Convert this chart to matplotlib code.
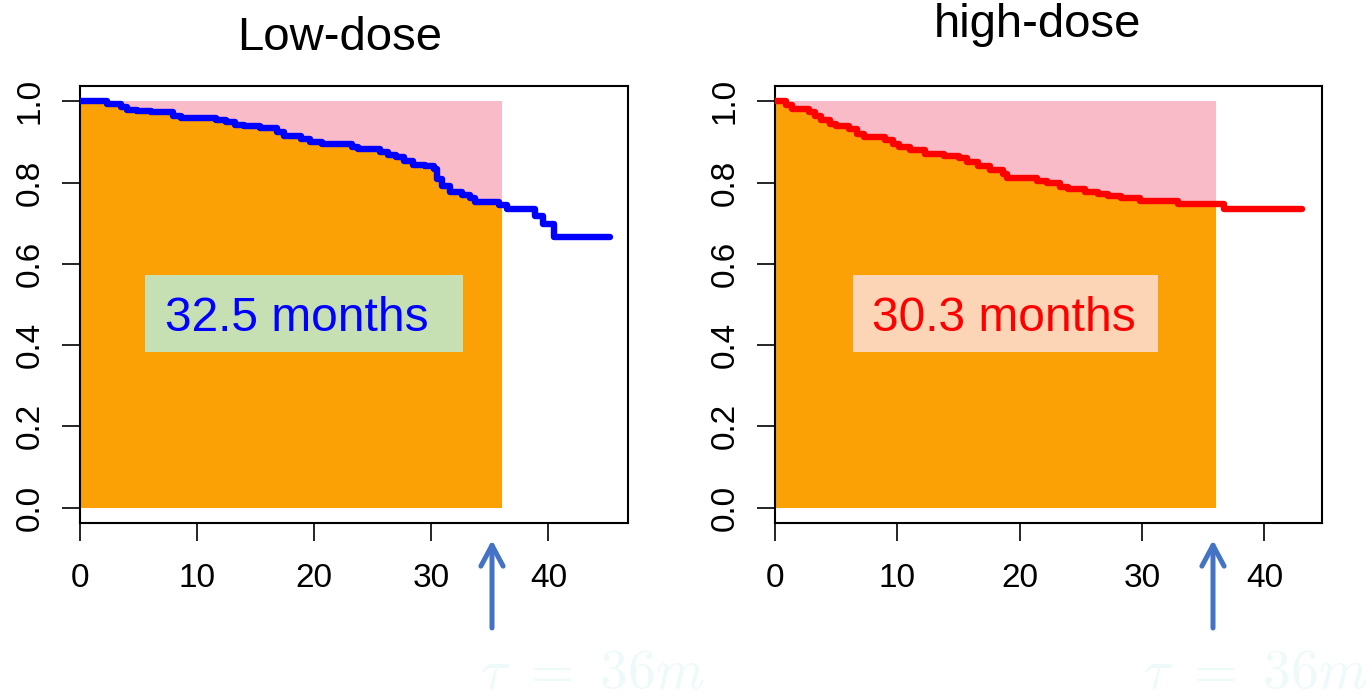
import numpy as np
import matplotlib
matplotlib.use("Agg")
import matplotlib.pyplot as plt
from matplotlib.patches import Rectangle

plt.rcParams["font.family"] = ["Liberation Sans", "DejaVu Sans"]

# Kaplan-Meier step curves: (event time, survival after that time)
low_times = [0, 2.3, 3.5, 4.0, 4.9, 6.1, 7.9, 8.6, 11.6, 12.5, 13.2, 14.0, 15.4,
             16.8, 17.4, 18.9, 19.6, 20.7, 23.2, 23.7, 25.6, 26.3, 27.0, 27.7,
             28.4, 29.5, 30.2, 30.5, 30.9, 31.6, 32.6, 33.3, 33.7, 35.8, 36.5,
             38.9, 39.5, 40.5]
low_surv = [1.0, 0.993, 0.986, 0.980, 0.977, 0.973, 0.965, 0.960, 0.955, 0.949,
            0.943, 0.940, 0.934, 0.924, 0.914, 0.908, 0.901, 0.894, 0.887, 0.883,
            0.875, 0.868, 0.862, 0.854, 0.843, 0.840, 0.833, 0.809, 0.792, 0.776,
            0.769, 0.761, 0.752, 0.744, 0.736, 0.718, 0.697, 0.667]
low_last_followup = 45.3

high_times = [0, 0.86, 1.38, 2.76, 3.28, 3.79, 4.48, 5.0, 6.03, 6.72, 7.24, 8.97,
              9.66, 10.17, 11.03, 12.24, 13.79, 15.0, 15.69, 16.55, 17.59, 18.62,
              18.97, 21.38, 22.24, 23.28, 23.97, 25.34, 26.38, 27.24, 28.28,
              29.83, 32.93, 36.72]
high_surv = [1.0, 0.990, 0.982, 0.974, 0.964, 0.954, 0.945, 0.939, 0.932, 0.920,
             0.912, 0.905, 0.895, 0.887, 0.881, 0.870, 0.865, 0.860, 0.850, 0.840,
             0.832, 0.822, 0.812, 0.805, 0.799, 0.790, 0.784, 0.777, 0.771, 0.767,
             0.763, 0.755, 0.747, 0.736]
high_last_followup = 43.1

tau = 36
rmst_labels = ["32.5 months", "30.3 months"]
titles = ["Low-dose", "high-dose"]
x_ticks = [0, 10, 20, 30, 40]
y_ticks = [0.0, 0.2, 0.4, 0.6, 0.8, 1.0]

W, H = 1368, 697
fig = plt.figure(figsize=(W / 100, H / 100), dpi=100)


def step_arrays(times, surv, t_end):
    t = np.append(np.asarray(times, float), t_end)
    s = np.append(np.asarray(surv, float), surv[-1])
    return t, s


def truncated(times, surv, t_cut):
    t = np.asarray(times, float)
    s = np.asarray(surv, float)
    keep = t < t_cut
    tt = np.append(t[keep], t_cut)
    ss = np.append(s[keep], s[keep][-1])
    return tt, ss


def panel(rect, times, surv, t_end, xmax, color, title, title_xy,
          label, label_xy, box_color, box_px):
    ax = fig.add_axes(rect)
    tt, ss = truncated(times, surv, tau)
    ax.fill_between(tt, ss, 1.0, step="post", color="#F9BBC8", lw=0, zorder=1)
    ax.fill_between(tt, 0, ss, step="post", color="#FBA005", lw=0, zorder=2)
    t, s = step_arrays(times, surv, t_end)
    ax.plot(t, s, drawstyle="steps-post", color=color, lw=4.6,
            solid_capstyle="round", solid_joinstyle="round", zorder=4)

    ax.set_xlim(0, xmax)
    ax.set_ylim(-0.038, 1.038)
    ax.set_xticks(x_ticks)
    ax.set_yticks(y_ticks)
    ax.set_xticklabels([str(v) for v in x_ticks])
    ax.set_yticklabels([f"{v:.1f}" for v in y_ticks])
    ax.tick_params(axis="both", length=13, width=1.2, labelsize=24,
                   direction="out", color="black")
    ax.tick_params(axis="x", pad=16)
    ax.tick_params(axis="y", pad=12)
    for lab in ax.get_yticklabels():
        lab.set_rotation(90)
        lab.set_va("center")
    for sp in ax.spines.values():
        sp.set_linewidth(1.5)
        sp.set_color("black")

    # label box with the restricted mean value
    x0, y0, x1, y1 = box_px
    fig.patches.append(Rectangle((x0 / W, 1 - y1 / H), (x1 - x0) / W,
                                 (y1 - y0) / H, transform=fig.transFigure,
                                 facecolor=box_color, edgecolor="none",
                                 zorder=5))
    fig.text(label_xy[0] / W, 1 - label_xy[1] / H, label,
             color=color, fontsize=34.5, ha="center", va="center", zorder=6)
    fig.text(title_xy[0] / W, 1 - title_xy[1] / H, title, fontsize=34,
             ha="center", va="center")
    return ax


panel([80 / W, 1 - 523 / H, (628 - 80) / W, (523 - 86) / H],
      low_times, low_surv, low_last_followup, 46.8, "#0000FF",
      titles[0], (340, 38), rmst_labels[0], (296.5, 318),
      "#C6E0B4", (145, 275, 463, 352))
panel([775 / W, 1 - 523 / H, (1322 - 775) / W, (523 - 86) / H],
      high_times, high_surv, high_last_followup, 44.7, "#FF0000",
      titles[1], (1037, 25), rmst_labels[1], (1004, 318),
      "#FBD5B5", (853, 275, 1158, 352))

# arrows marking the truncation time
for ax_x in (492, 1213):
    plt.annotate("", xy=(ax_x, H - 540), xytext=(ax_x, H - 628),
                 xycoords="figure pixels", textcoords="figure pixels",
                 arrowprops=dict(arrowstyle="->,head_length=0.75,head_width=0.4",
                                 color="#4472C4", lw=3.6, mutation_scale=20,
                                 shrinkA=0, shrinkB=0))

# faint truncation-time note
for tx in (480, 1143):
    fig.text(tx / W, 1 - 688 / H, r"$\tau\ =\ 36m$", color="#EEFAFA",
             fontsize=40, ha="left", va="baseline", math_fontfamily="cm")

fig.savefig("out.png", dpi=100)
